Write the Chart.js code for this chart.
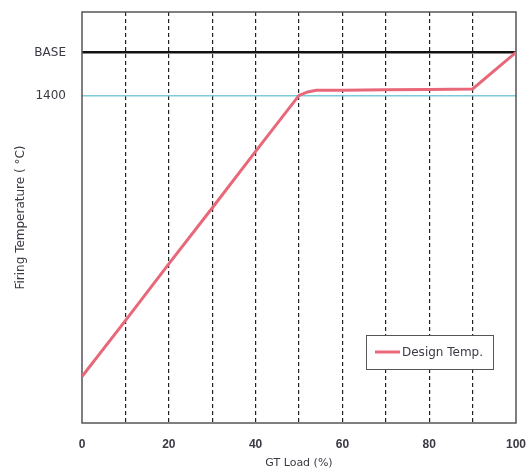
<!DOCTYPE html>
<html>
<head>
<meta charset="utf-8">
<script src="https://cdn.jsdelivr.net/npm/chart.js@4.4.1/dist/chart.umd.min.js"></script>
<style>
    html, body { margin: 0; padding: 0; background: #fff; }
    #wrap { width: 528px; height: 474px; }
</style>
</head>
<body>
<div id="wrap"><canvas id="chart"></canvas></div>
<script>
// Data
const loadPct = [0, 10, 20, 30, 40, 50, 52, 54, 60, 70, 80, 90, 100];
const designTemp = [1073, 1138, 1204, 1269, 1335, 1400, 1404, 1406, 1406, 1406.5, 1407, 1407.5, 1450];
const yTickValues = [1400, 1450];
const yTickLabels = ['1400', 'BASE'];
const xTickLabels = { 0: '0', 20: '20', 40: '40', 60: '60', 80: '80', 100: '100' };

const FONT = '"Liberation Sans", Arial, sans-serif';
const WIDE = '"DejaVu Sans", sans-serif';
const TEXT = '#3a3a44';
const RED = '#e8687a';

// Fix the plot-area margins (no automatic label overflow padding)
function fixBox(w, h) {
    return (scale) => {
        if (w !== null) scale.width = w;
        if (h !== null) scale.height = h;
        scale.paddingTop = 0;
        scale.paddingBottom = 0;
        scale.paddingLeft = 0;
        scale.paddingRight = 0;
    };
}

// Frame around the plot area
const framePlugin = {
    id: 'frame',
    beforeDatasetsDraw(chart) {
        const { ctx, chartArea: a } = chart;
        ctx.save();
        ctx.strokeStyle = '#555';
        ctx.lineWidth = 1.5;
        ctx.strokeRect(a.left, a.top, a.right - a.left, a.bottom - a.top);
        ctx.restore();
    }
};

// Legend box inside the plot
const legendBox = {
    id: 'legendBox',
    afterDatasetsDraw(chart) {
        const { ctx, chartArea: a } = chart;
        const ds = chart.data.datasets[0];
        const x = a.right - 150, y = a.bottom - 88, w = 127, h = 34;
        ctx.save();
        ctx.fillStyle = '#fff';
        ctx.fillRect(x, y, w, h);
        ctx.strokeStyle = '#555';
        ctx.lineWidth = 1;
        ctx.strokeRect(x + 0.5, y + 0.5, w, h);
        ctx.strokeStyle = ds.borderColor;
        ctx.lineWidth = 3;
        ctx.beginPath();
        ctx.moveTo(x + 9, y + 17);
        ctx.lineTo(x + 34, y + 17);
        ctx.stroke();
        ctx.fillStyle = TEXT;
        ctx.font = '12px ' + WIDE;
        ctx.textBaseline = 'middle';
        ctx.fillText(ds.label, x + 36, y + 18);
        ctx.restore();
    }
};

const ctx = document.getElementById('chart').getContext('2d');
new Chart(ctx, {
    type: 'line',
    data: {
        datasets: [{
            label: 'Design Temp.',
            data: loadPct.map((x, i) => ({ x: x, y: designTemp[i] })),
            borderColor: RED,
            borderWidth: 3,
            pointRadius: 0,
            tension: 0,
            fill: false
        }]
    },
    options: {
        responsive: true,
        maintainAspectRatio: false,
        animation: false,
        layout: { padding: { left: 0, right: 12, top: 12, bottom: 0 } },
        plugins: {
            legend: { display: false },
            tooltip: { enabled: false }
        },
        scales: {
            x: {
                type: 'linear',
                min: 0,
                max: 100,
                afterFit: fixBox(null, 51),
                ticks: {
                    stepSize: 10,
                    padding: 14,
                    color: TEXT,
                    font: { family: FONT, size: 12, weight: 'bold' },
                    maxRotation: 0,
                    autoSkip: false,
                    callback: (v) => xTickLabels[v] !== undefined ? xTickLabels[v] : ''
                },
                grid: {
                    drawTicks: false,
                    color: (c) => (c.tick && (c.tick.value === 0 || c.tick.value === 100)) ? 'rgba(0,0,0,0)' : '#222',
                    lineWidth: 1.2
                },
                border: { display: false, dash: [4, 3] },
                title: {
                    display: true,
                    text: 'GT Load (%)',
                    color: TEXT,
                    font: { family: WIDE, size: 11 },
                    padding: { top: 3 }
                }
            },
            y: {
                min: 1019,
                max: 1497,
                afterFit: fixBox(82, null),
                afterBuildTicks: (scale) => {
                    scale.ticks = yTickValues.map(v => ({ value: v }));
                },
                ticks: {
                    padding: 16,
                    color: TEXT,
                    font: { family: WIDE, size: 12 },
                    callback: (v) => yTickLabels[yTickValues.indexOf(v)]
                },
                grid: {
                    drawTicks: false,
                    color: (c) => c.tick && c.tick.value === 1450 ? '#111' : '#7ccbd9',
                    lineWidth: (c) => c.tick && c.tick.value === 1450 ? 2.5 : 1.5
                },
                border: { display: false },
                title: {
                    display: true,
                    text: 'Firing Temperature ( °C)',
                    color: TEXT,
                    font: { family: WIDE, size: 12 },
                    padding: { top: 14, bottom: 0 }
                }
            }
        }
    },
    plugins: [framePlugin, legendBox]
});
</script>
</body>
</html>
